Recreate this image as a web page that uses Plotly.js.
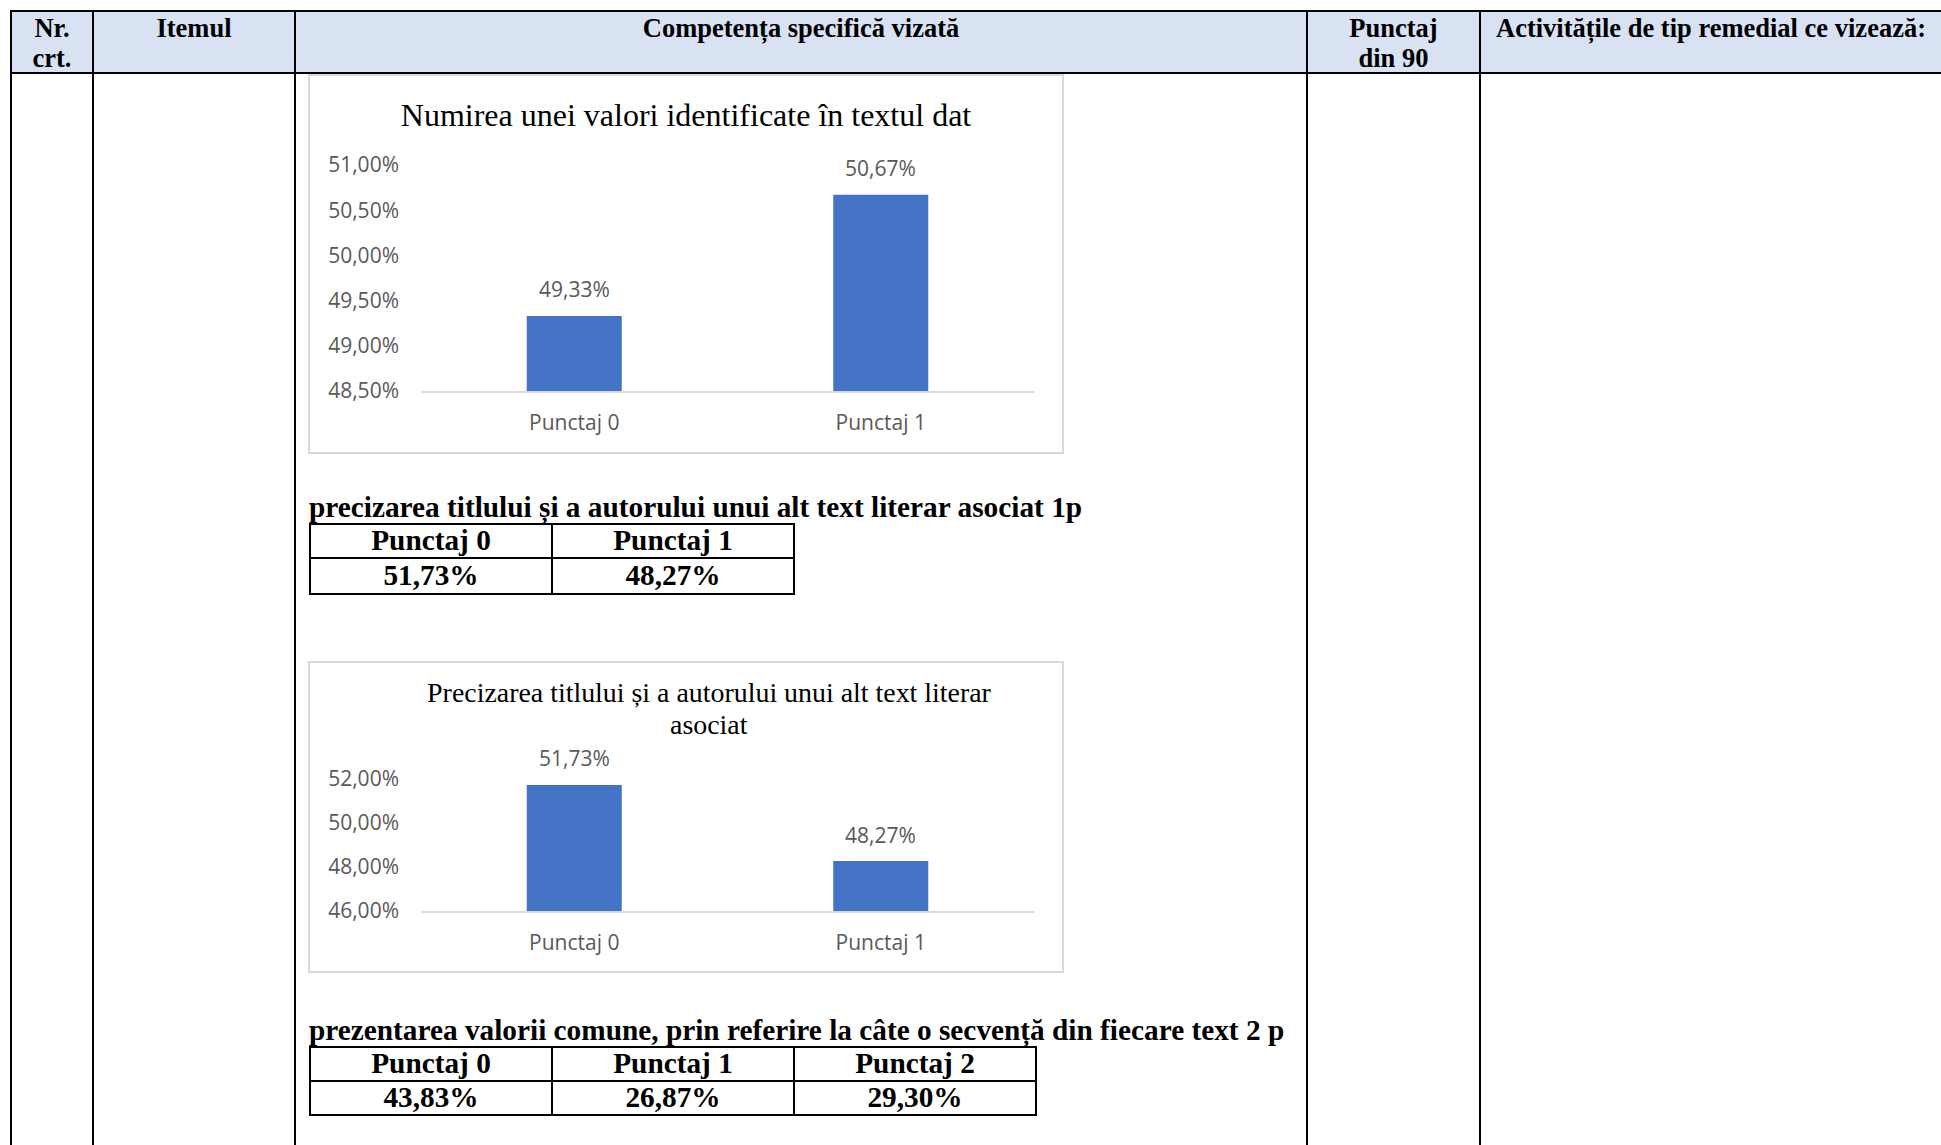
<!DOCTYPE html>
<html><head><meta charset="utf-8">
<script src="https://cdn.plot.ly/plotly-3.0.1.min.js"></script>
<style>
html,body{margin:0;padding:0;background:#fff;}
body{width:1941px;height:1145px;overflow:hidden;position:relative;font-family:"Liberation Serif","Times New Roman",serif;}
.hbg{position:absolute;left:12px;top:12px;width:1929px;height:60px;background:#d9e2f3;}
.vl{position:absolute;top:10px;height:1135px;width:2px;background:#000;}
.hl{position:absolute;left:10px;width:1931px;height:2px;background:#000;}
.ht{position:absolute;top:13px;font-weight:bold;font-size:26.5px;line-height:30px;text-align:center;color:#000;white-space:nowrap;}
.para{position:absolute;left:309px;font-weight:bold;font-size:29.3px;line-height:33px;white-space:nowrap;color:#000;}
table.score{position:absolute;left:309px;border-collapse:collapse;font-weight:bold;font-size:29.3px;color:#000;}
table.score td{border:2px solid #000;text-align:center;padding:0;line-height:1;width:240px;}
.box{position:absolute;left:308px;width:756px;border:2px solid #d9d9d9;box-sizing:border-box;background:#fff;}
.plot{position:absolute;left:310px;}
</style></head>
<body>
<div class="hbg"></div>
<div id="chart1box" class="box" style="top:74px;height:380px;"></div>
<div id="chart1" class="plot" style="top:76px;width:752px;height:376px;"></div>
<div id="chart2box" class="box" style="top:661px;height:312px;"></div>
<div id="chart2" class="plot" style="top:663px;width:752px;height:308px;"></div>
<div id="para1" class="para" style="top:491px;"></div>
<table id="table1" class="score" style="top:523px;"></table>
<div id="para2" class="para" style="top:1014px;"></div>
<table id="table2" class="score" style="top:1046px;"></table>
<script>
// ---- data ----
const headerLabels = ["Nr.<br>crt.", "Itemul", "Competența specifică vizată", "Punctaj<br>din 90", "Activitățile de tip remedial ce vizează:"];

const chart1Title = "Numirea unei valori identificate în textul dat";
const chart1Categories = ["Punctaj 0", "Punctaj 1"];
const chart1Values = [49.33, 50.67];
const chart1TickVals = [48.5, 49.0, 49.5, 50.0, 50.5, 51.0];

const table1Caption = "precizarea titlului și a autorului unui alt text literar asociat 1p";
const table1Categories = ["Punctaj 0", "Punctaj 1"];
const table1Values = [51.73, 48.27];

const chart2TitleLines = ["Precizarea titlului și a autorului unui alt text literar", "asociat"];
const chart2Categories = ["Punctaj 0", "Punctaj 1"];
const chart2Values = [51.73, 48.27];
const chart2TickVals = [46, 48, 50, 52];

const table2Caption = "prezentarea valorii comune, prin referire la câte o secvență din fiecare text 2 p";
const table2Categories = ["Punctaj 0", "Punctaj 1", "Punctaj 2"];
const table2Values = [43.83, 26.87, 29.30];

// ---- page frame ----
const colEdges = [10, 92, 294, 1306, 1479];
const colRight = [92, 294, 1306, 1479, 1941];
colEdges.forEach(x => {
  const d = document.createElement('div'); d.className = 'vl'; d.style.left = x + 'px'; document.body.appendChild(d);
});
[10, 72].forEach(y => {
  const d = document.createElement('div'); d.className = 'hl'; d.style.top = y + 'px'; document.body.appendChild(d);
});
headerLabels.forEach((t, i) => {
  const d = document.createElement('div'); d.className = 'ht';
  d.style.left = (colEdges[i] + 2) + 'px';
  d.style.width = (colRight[i] - colEdges[i] - 2) + 'px';
  d.innerHTML = t; document.body.appendChild(d);
});

const fmt = v => v.toFixed(2).replace('.', ',') + '%';

function fillTable(id, cats, vals, h1, h2) {
  const tb = document.getElementById(id);
  const r1 = tb.insertRow(); r1.style.height = h1 + 'px';
  cats.forEach(c => { const td = r1.insertCell(); td.textContent = c; });
  const r2 = tb.insertRow(); r2.style.height = h2 + 'px';
  vals.forEach(v => { const td = r2.insertCell(); td.textContent = fmt(v); });
}
document.getElementById('para1').textContent = table1Caption;
document.getElementById('para2').textContent = table2Caption;
fillTable('table1', table1Categories, table1Values, 34, 36);
fillTable('table2', table2Categories, table2Values, 34, 34);

// ---- charts ----
const tickFont = {family: 'Open Sans, sans-serif', size: 21, color: '#595959'};
const titleFont = size => ({family: 'Liberation Serif, serif', size: size, color: '#000'});
function makeChart(id, titleLines, titleSize, titleX, titleYs, cats, vals, range, tickvals, h, t, b) {
  const trace = {type: 'bar', x: cats, y: vals, marker: {color: '#4472c4'}, hoverinfo: 'none'};
  const annotations = vals.map((v, i) => ({x: cats[i], y: v, xref: 'x', yref: 'y', text: fmt(v), showarrow: false,
            yanchor: 'middle', yshift: 26.5, font: tickFont}));
  // extra title lines (tighter line spacing than Plotly's built-in <br>)
  titleLines.slice(1).forEach((line, k) => {
    annotations.push({text: line, xref: 'paper', yref: 'paper', showarrow: false,
      x: (titleX * 752 - 111) / (752 - 111 - 28), xanchor: 'center',
      y: 1 + ((1 - titleYs[k + 1]) * -h + t) / (h - t - b), yanchor: 'middle',
      font: titleFont(titleSize)});
  });
  const layout = {
    width: 752, height: h,
    margin: {l: 111, r: 28, t: t, b: b, pad: 0},
    paper_bgcolor: 'rgba(0,0,0,0)', plot_bgcolor: 'rgba(0,0,0,0)',
    font: tickFont,
    showlegend: false,
    bargap: 0.69,
    title: {text: titleLines[0], font: titleFont(titleSize),
            x: titleX, xref: 'container', xanchor: 'center', y: titleYs[0], yref: 'container', yanchor: 'middle'},
    xaxis: {showline: true, linecolor: '#d9d9d9', linewidth: 1.5, ticks: '', showgrid: false, zeroline: false,
            tickfont: tickFont, ticklabelstandoff: 12},
    yaxis: {range: range, tickvals: tickvals, ticktext: tickvals.map(fmt), showgrid: false, zeroline: false,
            showline: false, ticks: '', tickfont: tickFont, ticklabelstandoff: 21},
    annotations: annotations
  };
  Plotly.newPlot(id, [trace], layout, {staticPlot: true, displayModeBar: false});
}
makeChart('chart1', [chart1Title], 32.0, 0.5, [1 - 39/376], chart1Categories, chart1Values, [48.5, 51.0], chart1TickVals, 376, 88.6, 61);
makeChart('chart2', chart2TitleLines, 27.9, (709 - 310)/752, [1 - (692 - 663)/308, 1 - (724 - 663)/308], chart2Categories, chart2Values, [46, 52], chart2TickVals, 308, 115.6, 60);
</script>
</body></html>
